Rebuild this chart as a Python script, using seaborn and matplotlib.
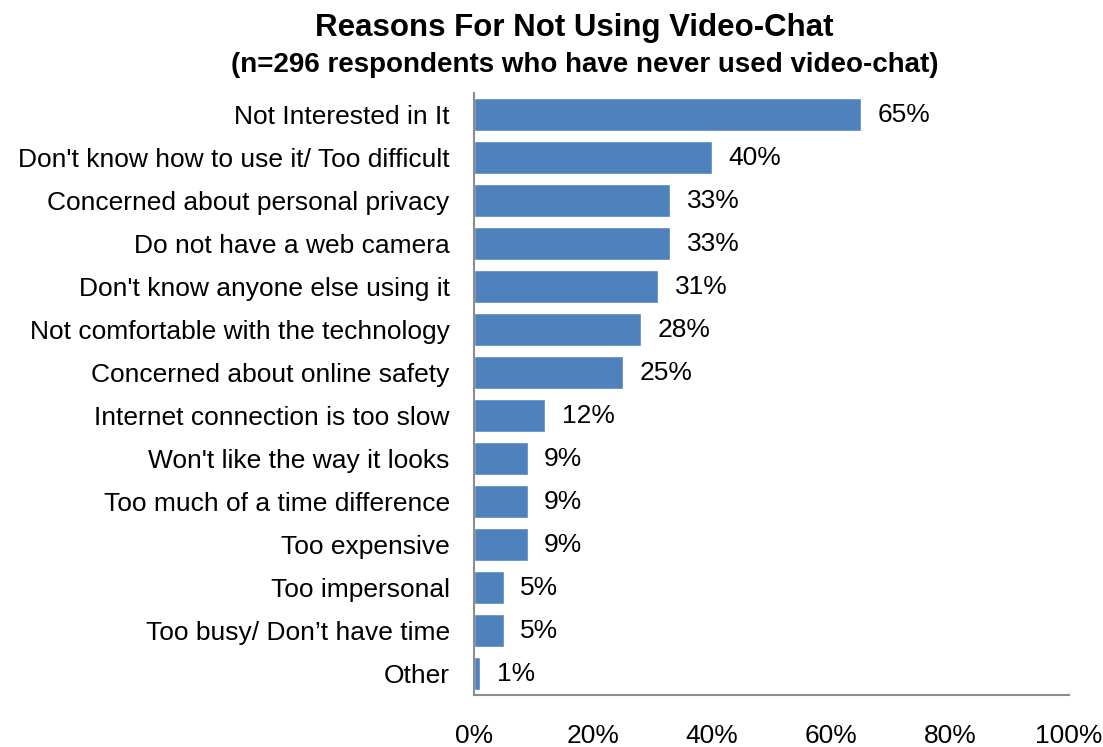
import matplotlib
matplotlib.use("Agg")
import matplotlib.pyplot as plt
import seaborn as sns
import pandas as pd

reasons = [
    "Not Interested in It",
    "Don't know how to use it/ Too difficult",
    "Concerned about personal privacy",
    "Do not have a web camera",
    "Don't know anyone else using it",
    "Not comfortable with the technology",
    "Concerned about online safety",
    "Internet connection is too slow",
    "Won't like the way it looks",
    "Too much of a time difference",
    "Too expensive",
    "Too impersonal",
    "Too busy/ Don\u2019t have time",
    "Other",
]
shares = [65, 40, 33, 33, 31, 28, 25, 12, 9, 9, 9, 5, 5, 1]
x_ticks = [0, 20, 40, 60, 80, 100]

sns.set_theme(style="white")
plt.rcParams["font.family"] = ["Liberation Sans", "DejaVu Sans"]
plt.rcParams["text.color"] = "black"

df = pd.DataFrame({"reason": reasons, "share": shares})

fig = plt.figure(figsize=(11.03, 7.47), dpi=100)
ax = fig.add_axes([0.4297, 0.0696, 0.5395, 0.8059])

sns.barplot(data=df, x="share", y="reason", orient="h", color="#4F81BD",
            saturation=1, width=0.75, ax=ax)

ax.set_xlim(0, 100)
ax.set_ylim(len(reasons) - 0.5, -0.5)
ax.set_xticks(x_ticks)
ax.set_xticklabels([f"{v}%" for v in x_ticks])
ax.set_xlabel("")
ax.set_ylabel("")
ax.tick_params(axis="x", length=0, pad=21, labelsize=19, colors="black")
ax.tick_params(axis="y", length=0, pad=17.5, labelsize=19, colors="black")

for side in ["top", "right"]:
    ax.spines[side].set_visible(False)
for side in ["left", "bottom"]:
    ax.spines[side].set_color("#8c8c8c")
    ax.spines[side].set_linewidth(1.5)

for i, v in enumerate(shares):
    ax.text(v + 2.8, i, f"{v}%", va="center", ha="left", fontsize=19,
            color="black")

fig.text(0.521, 0.9625, "Reasons For Not Using Video-Chat", ha="center",
         va="center", fontsize=22.5, fontweight="bold", color="black")
fig.text(0.530, 0.913, "(n=296 respondents who have never used video-chat)",
         ha="center", va="center", fontsize=20, fontweight="bold",
         color="black")

fig.savefig("out.png", dpi=100)
